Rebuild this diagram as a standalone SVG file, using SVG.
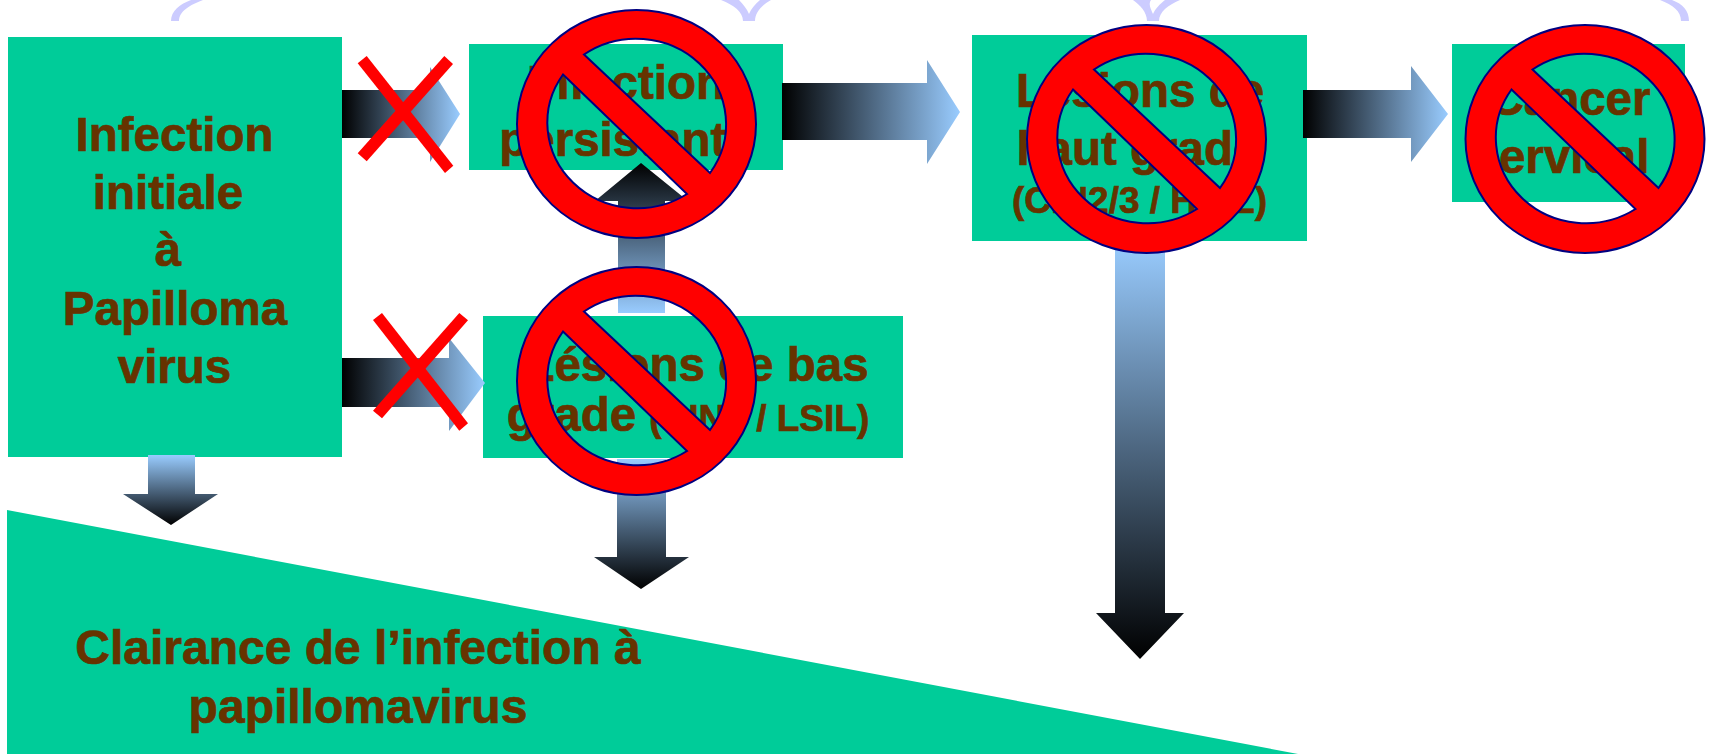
<svg xmlns="http://www.w3.org/2000/svg" xmlns:xlink="http://www.w3.org/1999/xlink" width="1710" height="754" viewBox="0 0 1710 754">
<style>
.box{fill:#00CC99}
text{font-family:"Liberation Sans",Arial,sans-serif;font-weight:bold;font-size:47.5px;fill:#663300;stroke:#663300;stroke-width:.7px;text-anchor:middle}
.sm{font-size:37px}
.x{fill:#FF0000}
.br{fill:#CCCCFF}
.no{fill:#FF0000;fill-rule:evenodd;stroke:#000080;stroke-width:2}
</style>
<defs>
<linearGradient id="gr"><stop offset="0" stop-color="#000"/><stop offset="1" stop-color="#99CCFF"/></linearGradient>
<linearGradient id="gd" x2="0" y2="1"><stop offset="0" stop-color="#99CCFF"/><stop offset="1" stop-color="#000"/></linearGradient>
<linearGradient id="gu" x2="0" y2="1"><stop offset="0" stop-color="#000"/><stop offset="1" stop-color="#99CCFF"/></linearGradient>
<path id="no" class="no" d="M-119.5 0A119.5 114 0 1 1 119.5 0A119.5 114 0 1 1 -119.5 0ZM-52.500 -69.500L73.500 49A90 85.500 0 0 0 -52.500 -69.500ZM-73.500 -49.500L50.500 70A90 85.500 0 0 1 -73.500 -49.500Z"/>
</defs>
<g id="brackets">
<path class="br" d="M171 21C171 11 180 4 191 0L203 0C190 5 179 11 179 21Z"/>
<path class="br" d="M721 0C734 5 743 12 743 21L755 21C755 12 762 5 771 0L760 0C755 4 751 9 749 14C747 9 743 4 739 0Z"/>
<path class="br" d="M1133 0C1140 5 1147 12 1147 21L1159 21C1159 12 1168 5 1180 0L1165 0C1160 4 1155 9 1153 14C1151 9 1148 4 1151 0Z"/>
<path class="br" d="M1660 0L1672 0C1683 4 1689 11 1689 21L1681 21C1681 11 1673 5 1660 0Z"/>
</g>
<g id="clairance">
<polygon class="box" points="7,510 1298,754 7,754"/>
<text x="358" y="664" style="font-size:48px">Clairance de l’infection à</text>
<text x="358" y="723" style="font-size:48px">papillomavirus</text>
</g>
<g id="node-initial">
<rect class="box" x="8" y="37" width="334" height="420"/>
<text x="174.500" y="151">Infection</text>
<text x="168" y="209">initiale</text>
<text x="168" y="266">à</text>
<text x="175" y="325">Papilloma</text>
<text x="174.500" y="383">virus</text>
</g>
<g id="node-persistante">
<rect class="box" x="469" y="44" width="314" height="126"/>
<text x="626" y="99">Infection</text>
<text x="626" y="156">persistante</text>
</g>
<g id="node-bas">
<rect class="box" x="483" y="316" width="420" height="142"/>
<text x="697" y="381">Lésions de bas</text>
<text x="688" y="431">grade <tspan class="sm">(CIN1 / LSIL)</tspan></text>
</g>
<g id="node-haut">
<rect class="box" x="972" y="35" width="335" height="206"/>
<text x="1140" y="107">Lésions de</text>
<text x="1138" y="165">haut grade</text>
<text class="sm" x="1139.500" y="213">(CIN2/3 / HSIL)</text>
</g>
<g id="node-cancer">
<rect class="box" x="1452" y="44" width="233" height="158"/>
<text x="1570" y="115">Cancer</text>
<text x="1561" y="173">cervical</text>
</g>
<g id="connectors">
<polygon fill="url(#gr)" points="342,90 430,90 430,67 460,114 430,162 430,138 342,138"/>
<polygon fill="url(#gr)" points="782,83 927,83 927,60 960,112 927,164 927,140 782,140"/>
<polygon fill="url(#gr)" points="1303,90 1411,90 1411,66 1448,114 1411,162 1411,138 1303,138"/>
<polygon fill="url(#gr)" points="342,358 449,358 449,338 485,383 449,431 449,407 342,407"/>
<polygon fill="url(#gu)" points="618,313 618,201 595,201 641,163 688,201 665,201 665,313"/>
<polygon fill="url(#gd)" points="617,459 666,459 666,557 689,557 641,589 594,557 617,557"/>
<polygon fill="url(#gd)" points="148,455 195,455 195,494 218,494 171,525 123,494 148,494"/>
<polygon fill="url(#gd)" points="1115,241 1165,241 1165,613 1184,613 1140,659 1096,613 1115,613"/>
</g>
<g id="crosses">
<polygon class="x" points="357.700,63.300 366.700,56 453.300,165.700 445,173"/>
<polygon class="x" points="444.300,56 453,64 366.700,161.300 357.700,153.300"/>
<polygon class="x" points="373,320 382,313 468,423.300 459.300,430.700"/>
<polygon class="x" points="459.300,313 468,320.300 382,418.300 373,410.700"/>
</g>
<g id="no-symbols">
<use xlink:href="#no" href="#no" x="636.500" y="124"/>
<use xlink:href="#no" href="#no" x="636.500" y="381"/>
<use xlink:href="#no" href="#no" x="1146.500" y="139"/>
<use xlink:href="#no" href="#no" x="1585" y="139"/>
</g>
</svg>
